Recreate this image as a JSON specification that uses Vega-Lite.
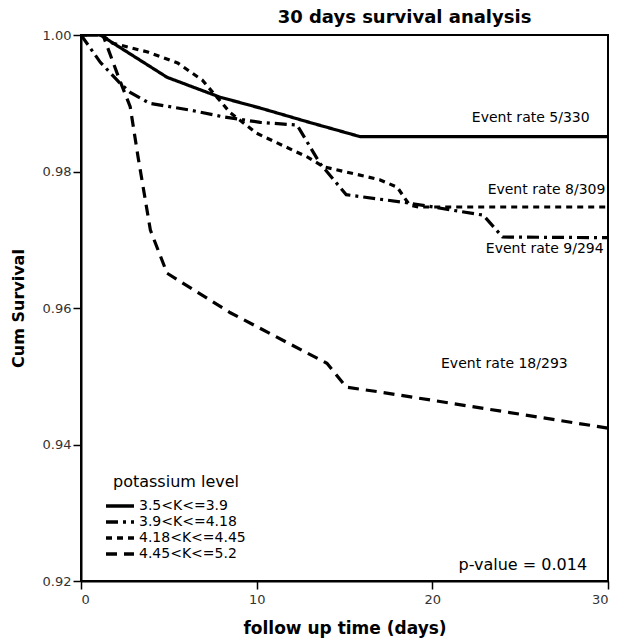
{
  "$schema": "https://vega.github.io/schema/vega-lite/v6.json",
  "width": 527,
  "height": 546,
  "autosize": {"type": "none"},
  "padding": {"left": 81, "top": 35, "right": 11, "bottom": 60},
  "background": "white",
  "title": {"text": "30 days survival analysis", "fontSize": 18, "fontWeight": "bold", "font": "DejaVu Sans", "anchor": "middle", "dx": 60, "offset": 2, "color": "black"},
  "config": {
    "view": {"stroke": "black", "strokeWidth": 2},
    "axis": {"grid": false, "domainColor": "black", "domainWidth": 2, "tickColor": "black", "tickSize": 8, "tickWidth": 1.5, "labelFont": "DejaVu Sans", "labelFontSize": 13, "labelColor": "#333", "titleFont": "DejaVu Sans", "titleFontWeight": "bold", "titleColor": "black", "titleFontSize": 16},
    "legend": {"labelFont": "DejaVu Sans", "titleFont": "DejaVu Sans"}
  },
  "layer": [
    {
      "data": {"values": [
        {"group": "3.5<K<=3.9", "day": 0, "surv": 1},
        {"group": "3.5<K<=3.9", "day": 1.1, "surv": 1},
        {"group": "3.5<K<=3.9", "day": 4.9, "surv": 0.9938},
        {"group": "3.5<K<=3.9", "day": 7.9, "surv": 0.9909},
        {"group": "3.5<K<=3.9", "day": 10.2, "surv": 0.9893},
        {"group": "3.5<K<=3.9", "day": 13, "surv": 0.9872},
        {"group": "3.5<K<=3.9", "day": 15.9, "surv": 0.9851},
        {"group": "3.5<K<=3.9", "day": 30, "surv": 0.9851},
        {"group": "3.9<K<=4.18", "day": 0, "surv": 1},
        {"group": "3.9<K<=4.18", "day": 1.1, "surv": 0.996},
        {"group": "3.9<K<=4.18", "day": 2.2, "surv": 0.993},
        {"group": "3.9<K<=4.18", "day": 2.8, "surv": 0.9916},
        {"group": "3.9<K<=4.18", "day": 3.9, "surv": 0.990},
        {"group": "3.9<K<=4.18", "day": 6.2, "surv": 0.989},
        {"group": "3.9<K<=4.18", "day": 8.1, "surv": 0.988},
        {"group": "3.9<K<=4.18", "day": 10.2, "surv": 0.9872},
        {"group": "3.9<K<=4.18", "day": 12.3, "surv": 0.9868},
        {"group": "3.9<K<=4.18", "day": 13.6, "surv": 0.9812},
        {"group": "3.9<K<=4.18", "day": 15.1, "surv": 0.9766},
        {"group": "3.9<K<=4.18", "day": 18.6, "surv": 0.9754},
        {"group": "3.9<K<=4.18", "day": 22.9, "surv": 0.9736},
        {"group": "3.9<K<=4.18", "day": 24.0, "surv": 0.9704},
        {"group": "3.9<K<=4.18", "day": 30, "surv": 0.9703},
        {"group": "4.18<K<=4.45", "day": 0, "surv": 1},
        {"group": "4.18<K<=4.45", "day": 1.2, "surv": 1},
        {"group": "4.18<K<=4.45", "day": 1.8, "surv": 0.9988},
        {"group": "4.18<K<=4.45", "day": 3.8, "surv": 0.9975},
        {"group": "4.18<K<=4.45", "day": 5.5, "surv": 0.9959},
        {"group": "4.18<K<=4.45", "day": 6.9, "surv": 0.9934},
        {"group": "4.18<K<=4.45", "day": 7.5, "surv": 0.9916},
        {"group": "4.18<K<=4.45", "day": 8.5, "surv": 0.9886},
        {"group": "4.18<K<=4.45", "day": 10.0, "surv": 0.9856},
        {"group": "4.18<K<=4.45", "day": 12.9, "surv": 0.9821},
        {"group": "4.18<K<=4.45", "day": 13.8, "surv": 0.9807},
        {"group": "4.18<K<=4.45", "day": 17.0, "surv": 0.9788},
        {"group": "4.18<K<=4.45", "day": 18.0, "surv": 0.9777},
        {"group": "4.18<K<=4.45", "day": 18.7, "surv": 0.9751},
        {"group": "4.18<K<=4.45", "day": 19.2, "surv": 0.9748},
        {"group": "4.18<K<=4.45", "day": 30, "surv": 0.9748},
        {"group": "4.45<K<=5.2", "day": 0, "surv": 1},
        {"group": "4.45<K<=5.2", "day": 1.25, "surv": 1},
        {"group": "4.45<K<=5.2", "day": 2.2, "surv": 0.9934},
        {"group": "4.45<K<=5.2", "day": 2.8, "surv": 0.9895},
        {"group": "4.45<K<=5.2", "day": 3.25, "surv": 0.9821},
        {"group": "4.45<K<=5.2", "day": 3.95, "surv": 0.9714},
        {"group": "4.45<K<=5.2", "day": 4.9, "surv": 0.9651},
        {"group": "4.45<K<=5.2", "day": 8.5, "surv": 0.9593},
        {"group": "4.45<K<=5.2", "day": 14.0, "surv": 0.9519},
        {"group": "4.45<K<=5.2", "day": 15.1, "surv": 0.9484},
        {"group": "4.45<K<=5.2", "day": 17.0, "surv": 0.9477},
        {"group": "4.45<K<=5.2", "day": 30, "surv": 0.9424}
      ]},
      "mark": {"type": "line", "color": "black", "strokeWidth": 3.2, "clip": true},
      "encoding": {
        "x": {"field": "day", "type": "quantitative", "scale": {"domain": [0, 30], "nice": false}, "axis": {"values": [0, 10, 20, 30], "title": "follow up time (days)", "titlePadding": 14, "labelPadding": 4, "titleFontSize": 17}},
        "y": {"field": "surv", "type": "quantitative", "scale": {"domain": [0.92, 1.0], "nice": false, "zero": false}, "axis": {"values": [0.92, 0.94, 0.96, 0.98, 1.0], "format": ".2f", "title": "Cum Survival", "titlePadding": 16, "labelPadding": 2}},
        "strokeDash": {"field": "group", "type": "nominal", "scale": {"domain": ["3.5<K<=3.9", "3.9<K<=4.18", "4.18<K<=4.45", "4.45<K<=5.2"], "range": [[1, 0], [12, 5, 3, 5], [6, 5], [11, 7]]},
          "legend": {"orient": "none", "legendX": 32, "legendY": 439, "title": "potassium level", "titleFontSize": 16, "titleFontWeight": "normal", "titleColor": "black", "titlePadding": 9, "labelFontSize": 14, "labelColor": "black", "labelOffset": 12, "rowPadding": 2, "symbolType": "M-3.5,0H3.5", "symbolSize": 64, "symbolStrokeWidth": 3.5, "symbolStrokeColor": "black"}}
      }
    },
    {
      "data": {"values": [
        {"label": "Event rate 5/330", "day": 25.6, "surv": 0.9878, "size": 14},
        {"label": "Event rate 8/309", "day": 26.5, "surv": 0.9773, "size": 14},
        {"label": "Event rate 9/294", "day": 26.4, "surv": 0.9687, "size": 14},
        {"label": "Event rate 18/293", "day": 24.1, "surv": 0.9518, "size": 14},
        {"label": "p-value = 0.014", "day": 25.15, "surv": 0.9224, "size": 16}
      ]},
      "mark": {"type": "text", "font": "DejaVu Sans", "color": "black", "align": "center", "baseline": "middle"},
      "encoding": {
        "x": {"field": "day", "type": "quantitative"},
        "y": {"field": "surv", "type": "quantitative"},
        "text": {"field": "label"},
        "size": {"field": "size", "type": "quantitative", "scale": null}
      }
    }
  ]
}
